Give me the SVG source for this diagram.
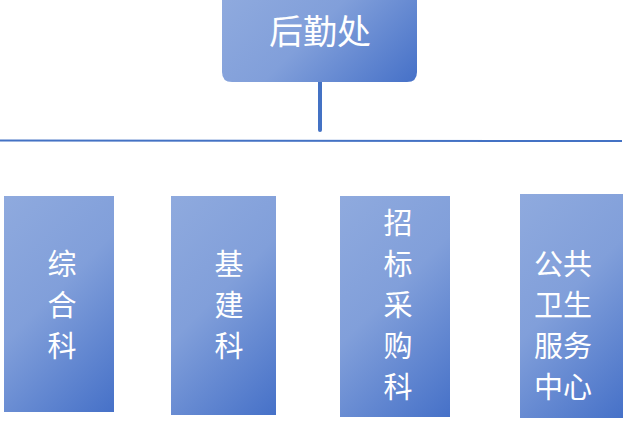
<svg xmlns="http://www.w3.org/2000/svg" width="629" height="424" viewBox="0 0 629 424">
<defs>
<linearGradient id="g" gradientUnits="userSpaceOnUse" x1="0" y1="0" x2="1" y2="1">
<stop offset="0" stop-color="#8FAADE"/>
<stop offset="0.45" stop-color="#819FDA"/>
<stop offset="1" stop-color="#4671C8"/>
</linearGradient>
<linearGradient id="g0" href="#g" x1="222" y1="-2" x2="361" y2="137"/>
<linearGradient id="g1" href="#g" x1="4" y1="196" x2="167" y2="359"/>
<linearGradient id="g2" href="#g" x1="171" y1="196" x2="333" y2="358"/>
<linearGradient id="g3" href="#g" x1="340" y1="196" x2="505.5" y2="361.5"/>
<linearGradient id="g4" href="#g" x1="520" y1="194" x2="683.5" y2="357.5"/>
<style>
.t{font-family:"Noto Sans CJK SC","Noto Sans",sans-serif;fill:#ffffff;text-anchor:middle;dominant-baseline:central;font-size:29px;}
.line{stroke:#4472C4;fill:none;}
</style>
</defs>
<rect width="629" height="424" fill="#ffffff"/>
<g id="connectors">
<line class="line" x1="320" y1="82" x2="320" y2="130" stroke-width="4" stroke-linecap="round"/>
<line class="line" x1="0" y1="140.5" x2="622" y2="141" stroke-width="2"/>
</g>
<g id="n0">
<path fill="url(#g0)" d="M222 -2 H417 V72 Q417 82 407 82 H232 Q222 82 222 72 Z"/>
<text class="t" x="320" y="29" style="font-size:34px">后勤处</text>
</g>
<g id="n1">
<rect fill="url(#g1)" x="4" y="196" width="110" height="216"/>
<text class="t" x="62" y="262">综</text>
<text class="t" x="62" y="303">合</text>
<text class="t" x="62" y="344">科</text>
</g>
<g id="n2">
<rect fill="url(#g2)" x="171" y="196" width="105" height="219"/>
<text class="t" x="229" y="262">基</text>
<text class="t" x="229" y="303">建</text>
<text class="t" x="229" y="344">科</text>
</g>
<g id="n3">
<rect fill="url(#g3)" x="340" y="196" width="110" height="221"/>
<text class="t" x="398" y="221">招</text>
<text class="t" x="398" y="262">标</text>
<text class="t" x="398" y="303">采</text>
<text class="t" x="398" y="344">购</text>
<text class="t" x="398" y="385">科</text>
</g>
<g id="n4">
<rect fill="url(#g4)" x="520" y="194" width="103" height="224"/>
<text class="t" x="563" y="262">公共</text>
<text class="t" x="563" y="303">卫生</text>
<text class="t" x="563" y="344">服务</text>
<text class="t" x="563" y="385">中心</text>
</g>
</svg>
